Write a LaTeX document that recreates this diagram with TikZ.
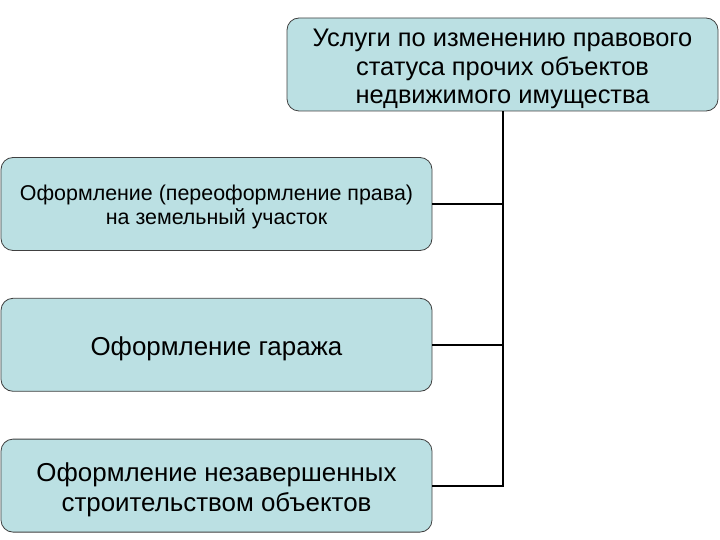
\documentclass[tikz,border=0pt]{standalone}
\usepackage{fontspec}
\setmainfont{Liberation Sans}
\usetikzlibrary{positioning}
\definecolor{boxfill}{RGB}{187,224,227}
\definecolor{boxline}{RGB}{64,64,64}
\begin{document}
\begin{tikzpicture}[
	x=1bp, y=-1bp,
  box/.style = {draw=boxline, line width=0.8bp, fill=boxfill, rounded corners=12bp,
    minimum width=431bp, minimum height=93bp, inner sep=0pt},
  boxtext/.style = {align=center, inner sep=0pt, yshift=-4.5bp},
  conn/.style = {draw, line width=2bp}
  ]
	\useasboundingbox (0,0) rectangle (720,540);

	\node[box, label={[boxtext, font=\fontsize{25.5}{28.5}\selectfont]center:Услуги по изменению правового\\статуса прочих объектов\\недвижимого имущества}]
		(usl) at (502.5,64.5) {};

	\node[box, label={[boxtext, yshift=1.5bp, font=\fontsize{21.5}{24.5}\selectfont]center:Оформление (переоформление права)\\на земельный участок}]
		(zem) at (216.5,204) {};
	\node[box, below=47bp of zem, label={[boxtext, font=\fontsize{26}{30}\selectfont]center:Оформление гаража}]
		(gar) {};
	\node[box, below=47bp of gar, label={[boxtext, font=\fontsize{26}{30}\selectfont]center:Оформление незавершенных\\строительством объектов}]
		(nez) {};

	\draw[conn] (usl.south) |- (zem.east);
	\draw[conn] (usl.south) |- (gar.east);
	\draw[conn] (usl.south) |- (nez.east);
\end{tikzpicture}
\end{document}
